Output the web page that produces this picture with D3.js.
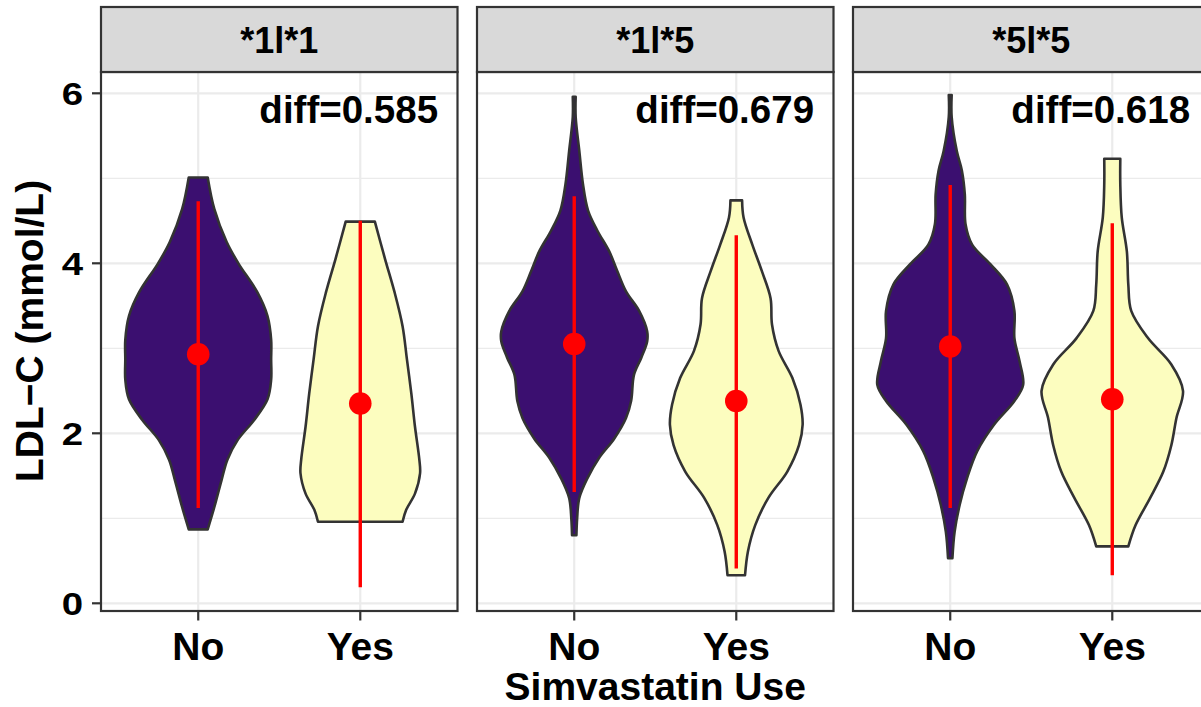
<!DOCTYPE html>
<html>
<head>
<meta charset="utf-8">
<script src="https://cdn.jsdelivr.net/npm/d3@7"></script>
<style>
  html, body { margin: 0; padding: 0; background: #ffffff; }
  svg { display: block; }
  text { font-family: "Liberation Sans", Arial, Helvetica, sans-serif; font-weight: bold; fill: #000; }
</style>
</head>
<body>
<svg id="chart" width="1201" height="707"></svg>
<script>
// ---------------- data ----------------
const facets = ["*1l*1", "*1l*5", "*5l*5"];
const groups = ["No", "Yes"];
const diffLabels = ["diff=0.585", "diff=0.679", "diff=0.618"];
const yTicks = [0, 2, 4, 6];
const yMinor = [1, 3, 5];

// violin outlines: [LDL-C value, relative density (1 = widest)]
const dens_11_No = [[5.01,0.13],[4.64,0.22],[4.25,0.39],[4.0,0.55],[3.66,0.81],[3.38,0.95],[3.1,1.0],[2.87,1.0],[2.63,1.0],[2.4,0.95],[2.16,0.77],[1.92,0.54],[1.69,0.40],[1.45,0.32],[1.13,0.22],[0.87,0.13]];
const dens_11_Yes = [[4.49,0.20],[4.05,0.34],[3.66,0.47],[3.26,0.58],[2.87,0.64],[2.47,0.70],[2.08,0.75],[1.69,0.81],[1.53,0.82],[1.29,0.75],[1.1,0.63],[0.96,0.58]];
const dens_15_No = [[5.96,0.02],[5.72,0.02],[5.32,0.07],[4.93,0.12],[4.62,0.19],[4.38,0.32],[4.14,0.48],[3.91,0.59],[3.67,0.71],[3.44,0.89],[3.2,1.0],[3.08,1.0],[2.89,0.92],[2.69,0.82],[2.38,0.78],[2.18,0.71],[1.94,0.55],[1.71,0.34],[1.47,0.18],[1.24,0.07],[1.0,0.04],[0.8,0.03]];
const dens_15_Yes = [[4.74,0.08],[4.54,0.10],[4.22,0.22],[3.91,0.35],[3.59,0.47],[3.28,0.49],[2.97,0.58],[2.65,0.77],[2.34,0.88],[2.1,0.91],[1.86,0.86],[1.55,0.70],[1.24,0.44],[0.92,0.26],[0.61,0.16],[0.33,0.12]];
const dens_55_No = [[5.98,0.02],[5.72,0.02],[5.32,0.09],[5.09,0.16],[4.81,0.20],[4.46,0.21],[4.22,0.30],[3.99,0.55],[3.75,0.78],[3.44,0.88],[3.12,0.88],[2.85,0.95],[2.57,1.0],[2.38,0.88],[2.1,0.60],[1.79,0.37],[1.47,0.23],[1.16,0.13],[0.84,0.06],[0.53,0.03]];
const dens_55_Yes = [[5.23,0.11],[4.93,0.11],[4.54,0.13],[4.14,0.20],[3.75,0.22],[3.44,0.26],[3.12,0.49],[2.81,0.81],[2.5,0.97],[2.18,0.88],[1.86,0.81],[1.55,0.70],[1.24,0.52],[0.92,0.32],[0.67,0.22]];

// mean and mean ± 2 SD (red point and line), per facet
const meanNo  = [2.93, 3.05, 3.02];
const loNo    = [1.12, 1.31, 1.12];
const hiNo    = [4.73, 4.79, 4.92];
const meanYes = [2.35, 2.38, 2.40];
const loYes   = [0.19, 0.41, 0.33];
const hiYes   = [4.50, 4.33, 4.47];

const densities = [[dens_11_No, dens_11_Yes], [dens_15_No, dens_15_Yes], [dens_55_No, dens_55_Yes]];
const colors = { No: "#3B0F70", Yes: "#FCFDBF" };

// ---------------- layout ----------------
const svg = d3.select("#chart");
const panelLefts = [101, 477, 853];
const panelW = 356.5;
const stripTop = 7, plotTop = 72, plotBottom = 611;

const y = d3.scaleLinear().domain([0, 6]).range([603.3, 93.3]);
const wScale = d3.scaleLinear().domain([0, 1]);

facets.forEach((fac, fi) => {
  const left = panelLefts[fi];
  const x = d3.scalePoint().domain(groups).range([left, left + panelW]).padding(0.6);
  const step = x.step();
  wScale.range([0, 0.45 * step]);
  const g = svg.append("g");

  // background
  g.append("rect").attr("x", left).attr("y", plotTop).attr("width", panelW).attr("height", plotBottom - plotTop).attr("fill", "#fff");

  // grid
  g.selectAll(".minor").data(yMinor).join("line")
    .attr("x1", left).attr("x2", left + panelW)
    .attr("y1", d => y(d)).attr("y2", d => y(d))
    .attr("stroke", "#EBEBEB").attr("stroke-width", 1.2);
  g.selectAll(".major").data(yTicks).join("line")
    .attr("x1", left).attr("x2", left + panelW)
    .attr("y1", d => y(d)).attr("y2", d => y(d))
    .attr("stroke", "#EBEBEB").attr("stroke-width", 2.2);
  g.selectAll(".vmajor").data(groups).join("line")
    .attr("x1", d => x(d)).attr("x2", d => x(d))
    .attr("y1", plotTop).attr("y2", plotBottom)
    .attr("stroke", "#EBEBEB").attr("stroke-width", 2.2);

  // violins
  groups.forEach((grp, gi) => {
    const dat = densities[fi][gi];
    const cx = x(grp);
    const area = d3.area()
      .curve(d3.curveCatmullRom.alpha(0.5))
      .y(d => y(d[0]))
      .x0(d => cx - wScale(d[1]))
      .x1(d => cx + wScale(d[1]));
    g.append("path").datum(dat).attr("d", area)
      .attr("fill", colors[grp]).attr("stroke", "#333333").attr("stroke-width", 2.6)
      .attr("stroke-linejoin", "round");
  });

  // mean ± 2SD
  const summ = [
    { g: "No", m: meanNo[fi], lo: loNo[fi], hi: hiNo[fi] },
    { g: "Yes", m: meanYes[fi], lo: loYes[fi], hi: hiYes[fi] }
  ];
  g.selectAll(".rng").data(summ).join("line")
    .attr("x1", d => x(d.g)).attr("x2", d => x(d.g))
    .attr("y1", d => y(d.lo)).attr("y2", d => y(d.hi))
    .attr("stroke", "#FF0000").attr("stroke-width", 3.4);
  g.selectAll(".pt").data(summ).join("circle")
    .attr("cx", d => x(d.g)).attr("cy", d => y(d.m)).attr("r", 11.3)
    .attr("fill", "#FF0000");

  // diff label
  g.append("text").attr("x", x("Yes") + 0.48 * step).attr("y", y(5.65))
    .attr("text-anchor", "end").attr("font-size", 38.5).text(diffLabels[fi]);

  // panel border
  g.append("rect").attr("x", left).attr("y", plotTop).attr("width", panelW).attr("height", plotBottom - plotTop)
    .attr("fill", "none").attr("stroke", "#333333").attr("stroke-width", 2.2);

  // strip
  g.append("rect").attr("x", left).attr("y", stripTop).attr("width", panelW).attr("height", plotTop - stripTop)
    .attr("fill", "#D9D9D9").attr("stroke", "#333333").attr("stroke-width", 2.2);
  g.append("text").attr("x", left + panelW / 2).attr("y", 53.3)
    .attr("text-anchor", "middle").attr("font-size", 36).text(fac);

  // x axis ticks and labels
  g.selectAll(".xt").data(groups).join("line")
    .attr("x1", d => x(d)).attr("x2", d => x(d))
    .attr("y1", plotBottom).attr("y2", plotBottom + 9.5)
    .attr("stroke", "#333333").attr("stroke-width", 2.2);
  g.selectAll(".xl").data(groups).join("text")
    .attr("x", d => x(d)).attr("y", 660)
    .attr("text-anchor", "middle").attr("font-size", 39).text(d => d);

  // y axis on first panel
  if (fi === 0) {
    g.selectAll(".yt").data(yTicks).join("line")
      .attr("x1", left - 9).attr("x2", left)
      .attr("y1", d => y(d)).attr("y2", d => y(d))
      .attr("stroke", "#333333").attr("stroke-width", 2.2);
    g.selectAll(".yl").data(yTicks).join("text")
      .attr("transform", d => `translate(${left - 18},${y(d) + 11.5}) scale(1.2,1)`)
      .attr("text-anchor", "end").attr("font-size", 32).text(d => d);
  }
});

// axis titles
svg.append("text").attr("x", (panelLefts[0] + panelLefts[2] + panelW) / 2).attr("y", 700)
  .attr("text-anchor", "middle").attr("font-size", 39).text("Simvastatin Use");
svg.append("text").attr("transform", "translate(43,331) rotate(-90)")
  .attr("text-anchor", "middle").attr("font-size", 39).text("LDL\u2212C (mmol/L)");
</script>
</body>
</html>
